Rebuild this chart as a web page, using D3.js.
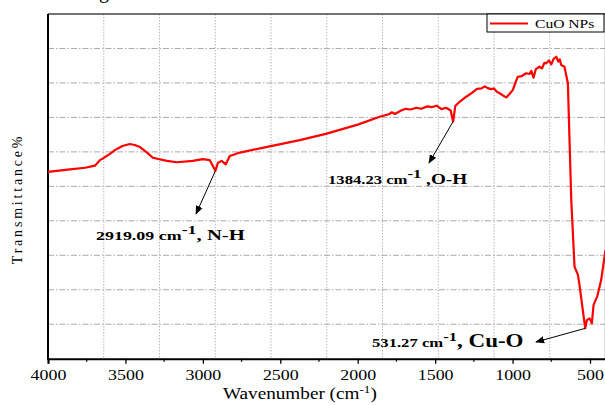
<!DOCTYPE html>
<html>
<head>
<meta charset="utf-8">
<script src="https://cdn.jsdelivr.net/npm/d3@7"></script>
<style>
  body { margin: 0; background: #fff; }
</style>
</head>
<body>
<svg id="chart" width="605" height="405"></svg>
<script>
// FTIR spectrum of CuO NPs (wavenumber in cm-1, transmittance in arbitrary %)
const wavenumbers = [4000, 3858, 3760, 3697, 3665, 3645, 3600, 3568, 3520, 3471, 3440, 3406, 3360, 3323,
  3232, 3168, 3065, 3000, 2955, 2919, 2903, 2879, 2852, 2826, 2761, 2600, 2374, 2200, 2000, 1858, 1800,
  1780, 1760, 1720, 1690, 1660, 1620, 1590, 1550, 1520, 1490, 1460, 1430, 1400, 1384, 1370, 1340, 1299,
  1260, 1230, 1200, 1180, 1160, 1140, 1120, 1100, 1084, 1060, 1041, 1020, 998, 980, 966, 940, 912, 890,
  879, 865, 850, 826, 810, 795, 783, 765, 750, 735, 718, 705, 695, 686, 665, 643, 621, 600, 578, 568,
  531, 520, 503, 488, 477, 454, 428, 400];
const transmittance = [54.2, 54.9, 55.4, 56.0, 57.6, 58.1, 59.4, 60.5, 61.7, 62.3, 62.0, 61.4, 59.8, 58.3,
  57.4, 57.0, 57.4, 57.9, 57.6, 54.5, 56.8, 57.4, 56.4, 58.8, 59.8, 61.3, 63.4, 65.3, 67.9, 70.2, 70.9,
  71.5, 71.0, 72.0, 72.5, 72.3, 72.8, 72.5, 73.2, 73.0, 73.4, 72.4, 72.8, 72.0, 68.8, 73.3, 74.6, 76.0,
  77.2, 78.3, 78.4, 79.0, 78.5, 78.2, 78.4, 77.4, 77.0, 76.3, 75.8, 76.8, 78.0, 80.3, 81.8, 82.0, 82.8, 82.6,
  83.5, 81.5, 84.0, 84.7, 84.2, 85.8, 85.7, 86.5, 85.4, 87.0, 87.6, 86.2, 86.8, 85.2, 84.7, 79.9, 46.0, 26.7, 24.3, 21.4,
  8.8, 11.2, 11.7, 10.3, 15.6, 18.0, 22.8, 31.5];

const xTicks = [4000, 3500, 3000, 2500, 2000, 1500, 1000, 500];
const xMinorTicks = [3750, 3250, 2750, 2250, 1750, 1250, 750];
const gridX = [3640, 3280, 2920, 2560, 2200, 1840, 1480, 1120, 760];
const gridY = [10, 20, 30, 40, 50, 60, 70, 80, 90];

const peaks = [
  { wn: 2919.09, t: 54.5, num: "2919.09 cm", tail: ", N-H", lx: 196, ly: 214, tx: 96, ty: 240, tailSize: 15, sx: 1.38 },
  { wn: 1384.23, t: 68.8, num: "1384.23 cm", tail: " ,O-H", lx: 429, ly: 163, tx: 328, ty: 184, tailSize: 15, sx: 1.28 },
  { wn: 531.27, t: 8.8, num: "531.27 cm", tail: ", Cu-O", lx: 536, ly: 342, tx: 372, ty: 347, tailSize: 18, sx: 1.28 }
];

const serif = "'Liberation Serif', 'Times New Roman', Tinos, 'DejaVu Serif', serif";

const svg = d3.select("#chart").attr("font-family", serif);
const margin = { top: 14, left: 48 };
const width = 605.5 - margin.left;
const height = 358.7 - margin.top;

const x = d3.scaleLinear().domain([4000, 400]).range([margin.left, margin.left + width]);
const y = d3.scaleLinear().domain([0, 100]).range([margin.top + height, margin.top]);

svg.append("defs").append("marker")
  .attr("id", "arrow").attr("viewBox", "0 0 10 10")
  .attr("refX", 9).attr("refY", 5)
  .attr("markerWidth", 9).attr("markerHeight", 9)
  .attr("markerUnits", "userSpaceOnUse")
  .attr("orient", "auto")
  .append("path").attr("d", "M0,1 L10,5 L0,9 Z").attr("fill", "#000");

// cropped title glyph at the very top
svg.append("text").attr("x", 99).attr("y", -2).attr("font-size", 20).text("g");

// grid
const grid = svg.append("g");
grid.selectAll(".gx").data(gridX).join("line")
  .attr("x1", d => x(d)).attr("x2", d => x(d))
  .attr("y1", margin.top).attr("y2", margin.top + height)
  .attr("stroke", "#b8b8b8").attr("stroke-width", 1).attr("stroke-dasharray", "1.5,1.5");
grid.selectAll(".gy").data(gridY).join("line")
  .attr("x1", margin.left).attr("x2", margin.left + width)
  .attr("y1", d => y(d)).attr("y2", d => y(d))
  .attr("stroke", "#aaa").attr("stroke-width", 1).attr("stroke-dasharray", "6,2,1.5,2");

// frame top and right
svg.append("line").attr("x1", margin.left).attr("x2", margin.left + width)
  .attr("y1", margin.top).attr("y2", margin.top).attr("stroke", "#444").attr("stroke-width", 1.3);
svg.append("line").attr("x1", margin.left + width).attr("x2", margin.left + width)
  .attr("y1", margin.top).attr("y2", margin.top + height).attr("stroke", "#444").attr("stroke-width", 1.3);

// x axis
const xAxis = svg.append("g").attr("transform", `translate(0,${margin.top + height})`)
  .call(d3.axisBottom(x).tickValues(xTicks).tickSize(5).tickPadding(6).tickFormat(d3.format("d")));
xAxis.attr("font-family", serif).attr("font-size", 14);
xAxis.select(".domain").attr("stroke", "#000").attr("stroke-width", 2);
xAxis.selectAll(".tick line").attr("stroke-width", 1.3);
xAxis.selectAll("text").attr("fill", "#000").attr("transform", "scale(1.28,1)");
svg.append("g").attr("transform", `translate(0,${margin.top + height})`)
  .selectAll("line").data(xMinorTicks).join("line")
  .attr("x1", d => x(d)).attr("x2", d => x(d)).attr("y1", 0).attr("y2", 3)
  .attr("stroke", "#000").attr("stroke-width", 1.2);

// y axis line
svg.append("line").attr("x1", margin.left).attr("x2", margin.left)
  .attr("y1", margin.top).attr("y2", margin.top + height + 1)
  .attr("stroke", "#000").attr("stroke-width", 2);

// spectrum
const series = wavenumbers.map((w, i) => ({ w, t: transmittance[i] }));
svg.append("path").datum(series)
  .attr("fill", "none").attr("stroke", "#ff0000").attr("stroke-width", 2.2)
  .attr("stroke-linejoin", "round")
  .attr("d", d3.line().x(d => x(d.w)).y(d => y(d.t)));

// annotations
peaks.forEach(p => {
  svg.append("line")
    .attr("x1", x(p.wn)).attr("y1", y(p.t))
    .attr("x2", p.lx).attr("y2", p.ly)
    .attr("stroke", "#000").attr("stroke-width", 1)
    .attr("marker-end", "url(#arrow)");
  const t = svg.append("text")
    .attr("transform", `translate(${p.tx},${p.ty}) scale(${p.sx},1)`)
    .attr("font-weight", "bold").attr("font-size", 13);
  t.append("tspan").text(p.num);
  t.append("tspan").attr("dy", -6).attr("font-size", 13).text("-1");
  t.append("tspan").attr("dy", 6).attr("font-size", p.tailSize).text(p.tail);
});

// legend
const lg = svg.append("g");
lg.append("rect").attr("x", 487).attr("y", 14).attr("width", 117).attr("height", 18)
  .attr("fill", "#fff").attr("stroke", "#000").attr("stroke-width", 1);
lg.append("line").attr("x1", 490).attr("x2", 528).attr("y1", 23.5).attr("y2", 23.5)
  .attr("stroke", "#ff0000").attr("stroke-width", 2);
lg.append("text").attr("transform", "translate(535,28) scale(1.2,1)")
  .attr("font-size", 13).text("CuO NPs");

// axis titles
const xt = svg.append("text").attr("transform", "translate(223,399) scale(1.2,1)").attr("font-size", 16);
xt.append("tspan").text("Wavenumber (cm");
xt.append("tspan").attr("dy", -6).attr("font-size", 11).text("-1");
xt.append("tspan").attr("dy", 6).text(")");

svg.append("text")
  .attr("transform", "translate(22,199) rotate(-90)")
  .attr("text-anchor", "middle").attr("font-size", 14)
  .attr("letter-spacing", 2.8)
  .text("Transmittance%");
</script>
</body>
</html>
